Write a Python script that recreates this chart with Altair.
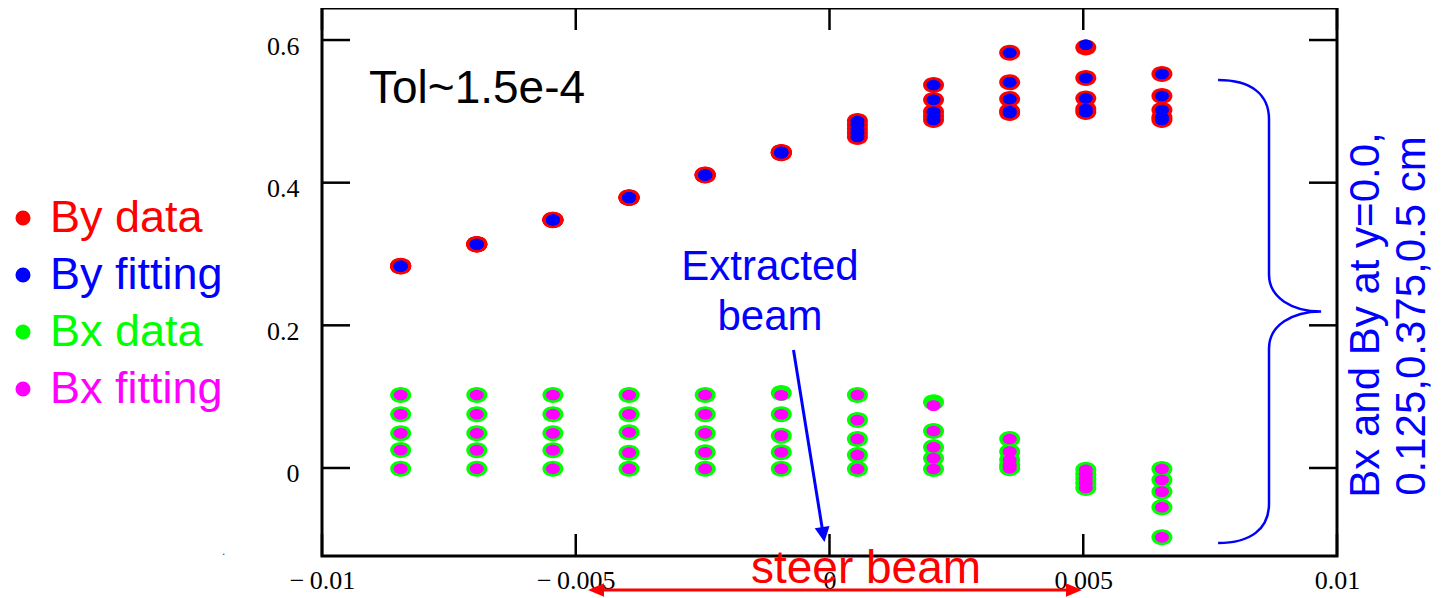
import altair as alt
import pandas as pd

# ---------------- data ----------------
x_pos = [-0.00845, -0.00695, -0.00545, -0.00395, -0.00245, -0.00095,
         0.00055, 0.00205, 0.00355, 0.00505, 0.00655]

by_data = [
    [0.2825, 0.2828, 0.2830, 0.2832, 0.2835],
    [0.3132, 0.3134, 0.3136, 0.3138, 0.3140],
    [0.3472, 0.3475, 0.3477, 0.3479, 0.3482],
    [0.3785, 0.3788, 0.3790, 0.3793, 0.3796],
    [0.4100, 0.4104, 0.4107, 0.4110, 0.4114],
    [0.4412, 0.4417, 0.4421, 0.4426, 0.4431],
    [0.4641, 0.4697, 0.4753, 0.4809, 0.4865],
    [0.4879, 0.4935, 0.4995, 0.5161, 0.5369],
    [0.4977, 0.5005, 0.5173, 0.5407, 0.5822],
    [0.4991, 0.5033, 0.5182, 0.5467, 0.5895],
    [0.4879, 0.4916, 0.5019, 0.5215, 0.5523],
]
by_fit = [
    [0.2825, 0.2828, 0.2830, 0.2832, 0.2835],
    [0.3132, 0.3134, 0.3136, 0.3138, 0.3140],
    [0.3472, 0.3475, 0.3477, 0.3479, 0.3482],
    [0.3785, 0.3788, 0.3790, 0.3793, 0.3796],
    [0.4100, 0.4104, 0.4107, 0.4110, 0.4114],
    [0.4412, 0.4417, 0.4421, 0.4426, 0.4431],
    [0.4641, 0.4697, 0.4753, 0.4809, 0.4865],
    [0.4879, 0.4935, 0.4995, 0.5161, 0.5369],
    [0.4977, 0.5005, 0.5173, 0.5407, 0.5822],
    [0.4991, 0.5033, 0.5182, 0.5467, 0.5934],
    [0.4879, 0.4916, 0.5019, 0.5215, 0.5523],
]
bx_data = [
    [-0.0010, 0.0252, 0.0486, 0.0753, 0.1023],
    [-0.0010, 0.0250, 0.0486, 0.0753, 0.1023],
    [-0.0010, 0.0250, 0.0486, 0.0753, 0.1023],
    [-0.0012, 0.0215, 0.0500, 0.0753, 0.1023],
    [-0.0012, 0.0220, 0.0486, 0.0753, 0.1023],
    [-0.0012, 0.0220, 0.0453, 0.0753, 0.1050],
    [-0.0014, 0.0182, 0.0407, 0.0673, 0.1023],
    [-0.0014, 0.0136, 0.0290, 0.0519, 0.0921],
    [-0.0004, 0.0040, 0.0112, 0.0229, 0.0407],
    [-0.0280, -0.0215, -0.0150, -0.0089, -0.0024],
    [-0.0972, -0.0551, -0.0332, -0.0168, -0.0014],
]
bx_fit = [
    [-0.0010, 0.0252, 0.0486, 0.0753, 0.1023],
    [-0.0010, 0.0250, 0.0486, 0.0753, 0.1023],
    [-0.0010, 0.0250, 0.0486, 0.0753, 0.1023],
    [-0.0012, 0.0215, 0.0500, 0.0753, 0.1023],
    [-0.0012, 0.0220, 0.0486, 0.0753, 0.1023],
    [-0.0012, 0.0220, 0.0453, 0.0753, 0.1019],
    [-0.0014, 0.0182, 0.0407, 0.0673, 0.1023],
    [-0.0014, 0.0136, 0.0290, 0.0519, 0.0874],
    [-0.0004, 0.0040, 0.0112, 0.0229, 0.0407],
    [-0.0280, -0.0215, -0.0150, -0.0089, -0.0024],
    [-0.0972, -0.0551, -0.0332, -0.0168, -0.0014],
]

series_names = ["By data", "By fitting", "Bx data", "Bx fitting"]
series_colors = ["#ff0000", "#0000ff", "#00ff00", "#ff00ff"]
x_ticks = [-0.01, -0.005, 0, 0.005, 0.01]
y_ticks = [0, 0.2, 0.4, 0.6]

# ---------------- build table ----------------
rows = []
for name, kind, table in [("By data", "data", by_data), ("Bx data", "data", bx_data),
                          ("By fitting", "fit", by_fit), ("Bx fitting", "fit", bx_fit)]:
    for i, xv in enumerate(x_pos):
        for v in table[i]:
            rows.append({"x": xv, "value": v, "series": name, "kind": kind})
df = pd.DataFrame(rows)

W, H = 1015, 548
SANS = "Liberation Sans"
SERIF = "Liberation Serif"
ELLIPSE = ("M 1 0 C 1 0.42 0.552 0.76 0 0.76 C -0.552 0.76 -1 0.42 -1 0 "
           "C -1 -0.42 -0.552 -0.76 0 -0.76 C 0.552 -0.76 1 -0.42 1 0 Z")

xscale = alt.Scale(domain=[-0.01, 0.01], nice=False, zero=False)
yscale = alt.Scale(domain=[-0.1234, 0.6449], nice=False, zero=False)
cscale = alt.Scale(domain=series_names, range=series_colors)

x_axis = alt.Axis(values=x_ticks, title=None, grid=False, ticks=False, domain=False, tickSize=0,
                  labelFont=SERIF, labelFontSize=26, labelColor="black", labelPadding=11,
                  labelFlush=False, labelOverlap=False, labelBound=False,
                  labelExpr="datum.value == 0 ? '0' : (datum.value < 0 ? '\u2212\u2009' : '') + format(abs(datum.value), '~g')")
y_axis = alt.Axis(values=y_ticks, title=None, grid=False, ticks=False, domain=False, tickSize=0,
                  labelFont=SERIF, labelFontSize=26, labelColor="black", labelPadding=23,
                  labelOffset=6, labelFlush=False, labelOverlap=False, labelBound=False,
                  format="~g")


def points(kind, size):
    return alt.Chart(df).transform_filter(f"datum.kind == '{kind}'").mark_point(
        shape=ELLIPSE, filled=True, size=size, opacity=1
    ).encode(
        x=alt.X("x:Q", scale=xscale, axis=x_axis),
        y=alt.Y("value:Q", scale=yscale, axis=y_axis),
        color=alt.Color("series:N", scale=cscale, legend=None),
    )


def label(text, x, y, size, color, font=SANS, align="left", angle=0):
    return alt.Chart(pd.DataFrame({"t": [text]})).mark_text(
        align=align, baseline="alphabetic", font=font, fontSize=size, color=color, angle=angle
    ).encode(x=alt.value(x), y=alt.value(y), text="t:N")


def symbol(path, x, y, size, color, filled=True, sw=2, angle=0):
    if filled:
        m = alt.Chart(pd.DataFrame({"t": [0]})).mark_point(
            shape=path, size=size, filled=True, color=color, opacity=1, angle=angle)
    else:
        m = alt.Chart(pd.DataFrame({"t": [0]})).mark_point(
            shape=path, size=size, filled=False, stroke=color, strokeWidth=sw, opacity=1, angle=angle)
    return m.encode(x=alt.value(x), y=alt.value(y))


def line(x1, y1, x2, y2, color, sw):
    return alt.Chart(pd.DataFrame({"t": [0]})).mark_rule(color=color, strokeWidth=sw).encode(
        x=alt.value(x1), y=alt.value(y1), x2=alt.value(x2), y2=alt.value(y2))


# plot frame
frame = alt.Chart(pd.DataFrame({"t": [0]})).mark_rect(
    fill="white", fillOpacity=0, stroke="black", strokeWidth=3
).encode(x=alt.value(0), x2=alt.value(W), y=alt.value(0), y2=alt.value(H))

# inward ticks on all four sides (same scales/axes as the data layers)
xt = pd.DataFrame({"x": x_ticks})
yt = pd.DataFrame({"value": y_ticks})
tick_layers = [
    alt.Chart(xt).mark_rule(color="black", strokeWidth=2.5).encode(
        x=alt.X("x:Q", scale=xscale, axis=x_axis), y=alt.value(H), y2=alt.value(H - 22)),
    alt.Chart(xt).mark_rule(color="black", strokeWidth=2.5).encode(
        x=alt.X("x:Q", scale=xscale, axis=x_axis), y=alt.value(0), y2=alt.value(22)),
    alt.Chart(yt).mark_rule(color="black", strokeWidth=2.5).encode(
        y=alt.Y("value:Q", scale=yscale, axis=y_axis), x=alt.value(0), x2=alt.value(28)),
    alt.Chart(yt).mark_rule(color="black", strokeWidth=2.5).encode(
        y=alt.Y("value:Q", scale=yscale, axis=y_axis), x=alt.value(W - 28), x2=alt.value(W)),
]

# legend (left)
legend_layers = []
for i, (name, col) in enumerate(zip(series_names, series_colors)):
    base = 224 + 57 * i
    legend_layers.append(symbol("circle", -299, base - 14, 227, col))
    legend_layers.append(label(name, -272, base, 45, col))

BRACE = ("M -0.22 -1 C -0.08 -1 0 -0.94 0 -0.83 L 0 -0.16 C 0 -0.06 0.1 0 0.225 0 "
         "C 0.1 0 0 0.06 0 0.16 L 0 0.83 C 0 0.94 -0.08 1 -0.22 1")

annot = [
    label("Tol~1.5e-4", 47, 95, 46, "black"),
    label("Extracted", 448, 272, 42, "#0000ff", align="center"),
    label("beam", 448, 322, 42, "#0000ff", align="center"),
    line(471.5, 342, 501.3, 527, "#0000ff", 3),
    symbol("M 0 1 L -1 -1 L 1 -1 Z", 501.3, 526.6, 225, "#0000ff", angle=351),
    symbol(BRACE, 947, 303.5, 463 * 463, "#0000ff", filled=False, sw=2.5),
    label("Bx and By at y=0.0,", 1057, 307, 42, "#0000ff", align="center", angle=270),
    label("0.125,0.375,0.5 cm", 1103, 308, 42, "#0000ff", align="center", angle=270),
    label("steer beam", 544, 575, 46, "#ff0000", align="center"),
    line(274, 582, 752, 582, "#ff0000", 3),
    symbol("M -1 0 L 1 -0.85 L 1 0.85 Z", 274, 582, 256, "#ff0000"),
    symbol("M 1 0 L -1 -0.85 L -1 0.85 Z", 752, 582, 256, "#ff0000"),
    label(".", -100, 547, 12, "#444444"),
]

chart = alt.layer(
    points("data", 441), points("fit", 196), frame, *tick_layers, *legend_layers, *annot
).properties(
    width=W, height=H,
    padding={"left": 314, "top": 0, "right": 97, "bottom": 42},
    autosize=alt.AutoSizeParams(type="none"),
).configure_view(stroke=None).configure(background="white")

chart.save("out.html", embed_options={"renderer": "svg", "actions": False})
